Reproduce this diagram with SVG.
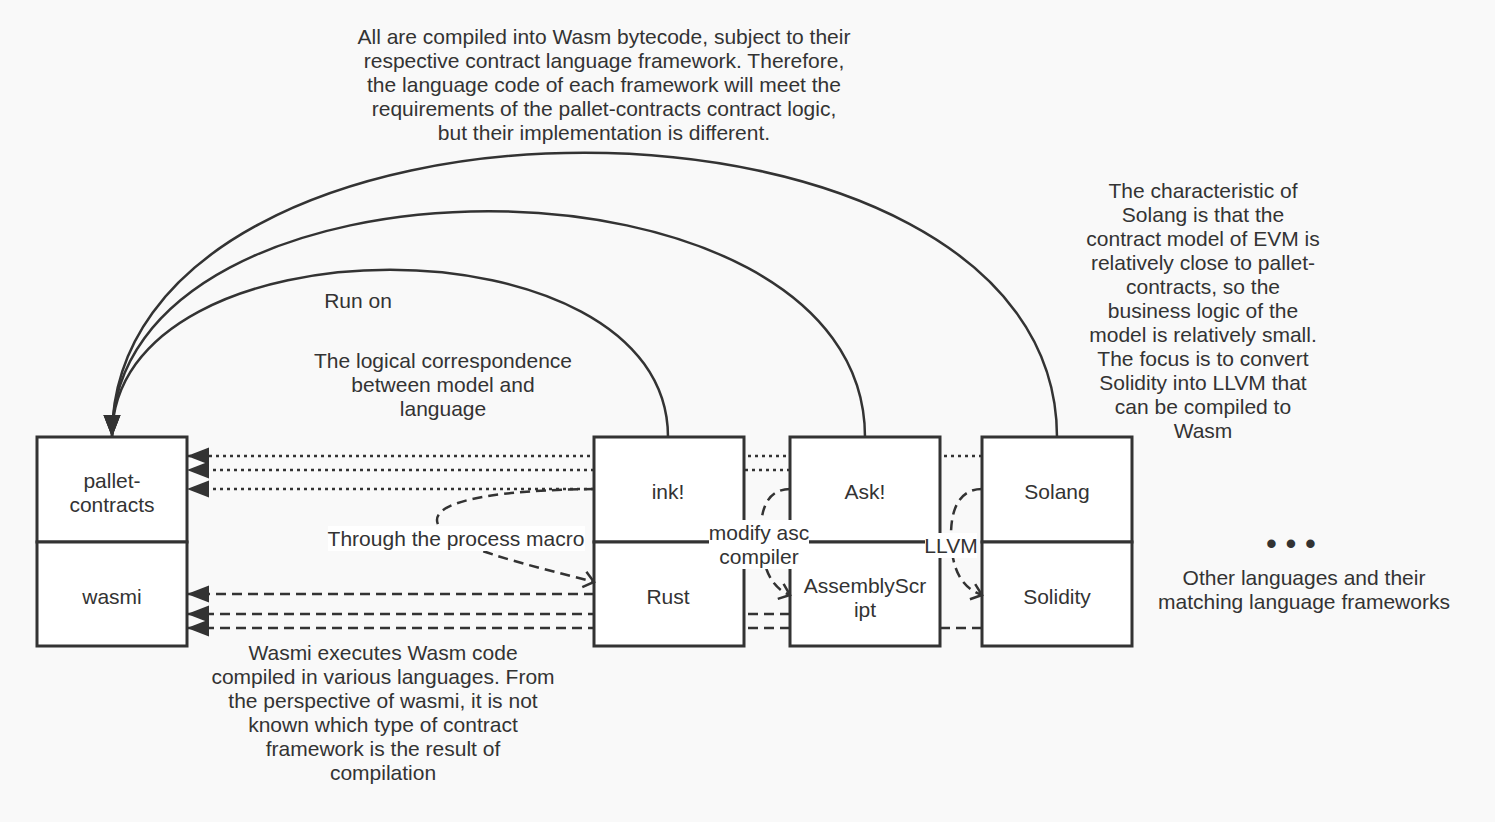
<svg xmlns="http://www.w3.org/2000/svg" width="1495" height="822" viewBox="0 0 1495 822">
<defs>
<style>
text{font-family:"Liberation Sans",Arial,sans-serif;font-size:21px;fill:#333;text-anchor:middle;dominant-baseline:central}
.box{fill:#fff;stroke:#333;stroke-width:3}
.ln{fill:none;stroke:#333;stroke-width:2.5}
.dot{stroke-dasharray:3 4}
.dash{stroke-dasharray:10 6}
.bg{fill:#fff}
</style>
<marker id="fa" markerUnits="userSpaceOnUse" markerWidth="24" markerHeight="20" refX="22" refY="9" orient="auto" viewBox="0 0 24 20">
<path d="M0,0.5 L22,9 L0,17.5 Z" fill="#333"/>
</marker>
<marker id="oa" markerUnits="userSpaceOnUse" markerWidth="16" markerHeight="20" refX="12" refY="10" orient="auto" viewBox="0 0 16 20">
<path d="M2,2 L12,10 L2,18" fill="none" stroke="#333" stroke-width="2.5"/>
</marker>
</defs>
<rect width="1495" height="822" fill="#f9f9f9"/>
<g id="connectors">
<path class="ln" d="M668,437 C668,214 112,214 112,437" marker-end="url(#fa)"/>
<path class="ln" d="M865,437 C865,136 112,136 112,437" marker-end="url(#fa)"/>
<path class="ln" d="M1057,437 C1057,58 112,58 112,437" marker-end="url(#fa)"/>
<path class="ln dot" d="M982,456 L187,456" marker-end="url(#fa)"/>
<path class="ln dot" d="M790,470 L187,470" marker-end="url(#fa)"/>
<path class="ln dot" d="M594,489 L187,489" marker-end="url(#fa)"/>
<path class="ln dash" d="M594,594 L187,594" marker-end="url(#fa)"/>
<path class="ln dash" d="M790,614 L187,614" marker-end="url(#fa)"/>
<path class="ln dash" d="M982,628 L187,628" marker-end="url(#fa)"/>
</g>
<g id="pallet"><rect class="box" x="37" y="437" width="150" height="105"/><text x="112" y="480">pallet-</text><text x="112" y="504">contracts</text></g>
<g id="wasmi"><rect class="box" x="37" y="542" width="150" height="104"/><text x="112" y="596">wasmi</text></g>
<g id="ink"><rect class="box" x="594" y="437" width="150" height="105"/><text x="668" y="491">ink!</text></g>
<g id="rust"><rect class="box" x="594" y="542" width="150" height="104"/><text x="668" y="596">Rust</text></g>
<g id="ask"><rect class="box" x="790" y="437" width="150" height="105"/><text x="865" y="491">Ask!</text></g>
<g id="assemblyscript"><rect class="box" x="790" y="542" width="150" height="104"/><text x="865" y="585">AssemblyScr</text><text x="865" y="609">ipt</text></g>
<g id="solang"><rect class="box" x="982" y="437" width="150" height="105"/><text x="1057" y="491">Solang</text></g>
<g id="solidity"><rect class="box" x="982" y="542" width="150" height="104"/><text x="1057" y="596">Solidity</text></g>
<g id="inner-connectors">
<path class="ln dash" d="M594,489 C500,490 437,500 437,520 C437,545 530,565 594,582" marker-end="url(#oa)"/>
<path class="ln dash" d="M790,489 C770,489 760,505 761,535 C762,570 772,588 790,595" marker-end="url(#oa)"/>
<path class="ln dash" d="M982,489 C962,489 951,505 951,535 C951,570 962,588 982,595" marker-end="url(#oa)"/>
<rect class="bg" x="328" y="526" width="257" height="25"/>
<text x="456" y="538">Through the process macro</text>
<rect class="bg" x="709" y="520" width="100" height="49"/>
<text x="759" y="532">modify asc</text>
<text x="759" y="556">compiler</text>
<rect class="bg" x="925" y="533" width="52" height="25"/>
<text x="951" y="545">LLVM</text>
</g>
<g id="notes">
<text x="604" y="36">All are compiled into Wasm bytecode, subject to their</text>
<text x="604" y="60">respective contract language framework. Therefore,</text>
<text x="604" y="84">the language code of each framework will meet the</text>
<text x="604" y="108">requirements of the pallet-contracts contract logic,</text>
<text x="604" y="132">but their implementation is different.</text>
<text x="358" y="300">Run on</text>
<text x="443" y="360">The logical correspondence</text>
<text x="443" y="384">between model and</text>
<text x="443" y="408">language</text>
<text x="1203" y="190">The characteristic of</text>
<text x="1203" y="214">Solang is that the</text>
<text x="1203" y="238">contract model of EVM is</text>
<text x="1203" y="262">relatively close to pallet-</text>
<text x="1203" y="286">contracts, so the</text>
<text x="1203" y="310">business logic of the</text>
<text x="1203" y="334">model is relatively small.</text>
<text x="1203" y="358">The focus is to convert</text>
<text x="1203" y="382">Solidity into LLVM that</text>
<text x="1203" y="406">can be compiled to</text>
<text x="1203" y="430">Wasm</text>
<text x="1291" y="543" style="font-size:31px">• • •</text>
<text x="1304" y="577">Other languages and their</text>
<text x="1304" y="601">matching language frameworks</text>
<text x="383" y="652">Wasmi executes Wasm code</text>
<text x="383" y="676">compiled in various languages. From</text>
<text x="383" y="700">the perspective of wasmi, it is not</text>
<text x="383" y="724">known which type of contract</text>
<text x="383" y="748">framework is the result of</text>
<text x="383" y="772">compilation</text>
</g>
</svg>
